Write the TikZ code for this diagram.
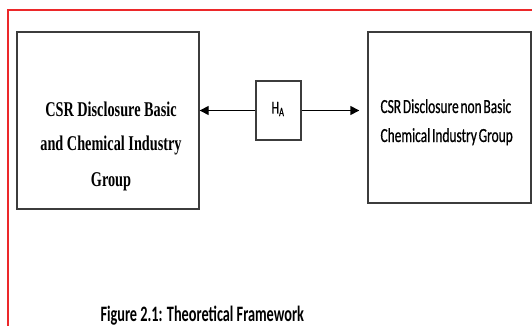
\documentclass[tikz,border=0pt]{standalone}
\usepackage{fontspec}
\usetikzlibrary{arrows.meta}
\newfontfamily\lserif[FakeStretch=0.68]{Liberation Serif}
\newfontfamily\rsans[FakeStretch=0.67,WordSpace=0.6,FakeBold=0.6]{Carlito}
\newfontfamily\capfont[FakeStretch=0.65]{Carlito}
\definecolor{frame}{RGB}{236,40,42}
\definecolor{boxline}{RGB}{60,60,60}
\tikzset{
  boxnode/.style={draw=boxline, line width=1.4pt, inner sep=0pt, fill=none},
  arr/.style={line width=1.4pt, -{Triangle[length=9pt,width=9pt]}},
  lline/.style={anchor=base, font=\lserif\bfseries\fontsize{21}{25}\selectfont},
  rline/.style={anchor=base west, font=\rsans\fontsize{20}{24}\selectfont},
}
\begin{document}
\begin{tikzpicture}[x=1pt,y=-1pt]
\useasboundingbox (0,0) rectangle (532,326);
\fill[white] (0,0) rectangle (532,326);
% red frame
\draw[frame, line width=2.6pt] (8,327) -- (8,10) -- (533,10);
% boxes
\node[boxnode, minimum width=182pt, minimum height=177pt] (lbox) at (108,120.5) {};
\node[boxnode, minimum width=163pt, minimum height=171pt] (rbox) at (449.5,117.5) {};
\node[boxnode, minimum width=45pt, minimum height=59pt] (hbox) at (278.5,110.5) {};
\node[anchor=center, font=\rsans\fontsize{18}{20}\selectfont] (hlab) at (278,109) {H\textsubscript{A}};
% left text
\node[lline] (l1) at (111,117) {CSR Disclosure Basic};
\node[lline] (l2) at (111,150) {and Chemical Industry};
\node[lline] (l3) at (111,186) {Group};
% right text
\node[rline] (r1) at (377,113) {CSR Disclosure non Basic};
\node[rline] (r2) at (377,142) {Chemical Industry Group};
% arrows
\draw[arr] (hbox.west) -- (hbox.west -| lbox.east);
\draw[arr, shorten >=8pt] (hbox.east) -- (hbox.east -| rbox.west);
% caption
\node[anchor=base west, font=\capfont\bfseries\fontsize{22}{24}\selectfont] (cap) at (97,321) {Figure 2.1: Theoretical Framework};
\end{tikzpicture}
\end{document}
